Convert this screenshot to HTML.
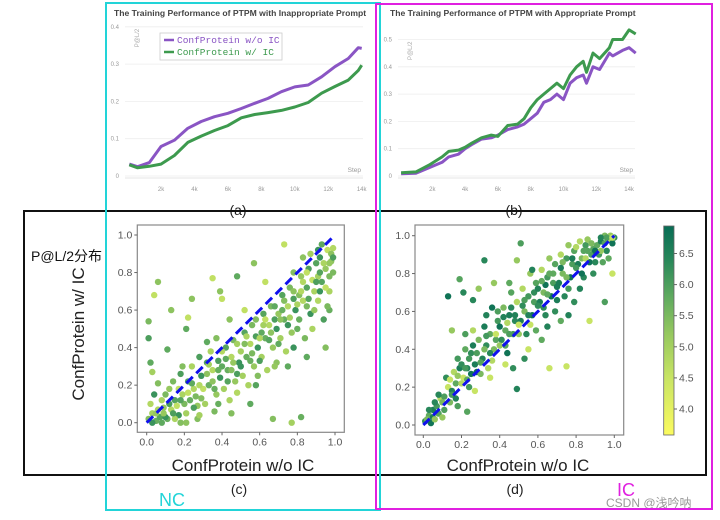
<!DOCTYPE html>
<html><head><meta charset="utf-8"><style>
html,body{margin:0;padding:0;background:#fff}
svg{display:block;font-family:"Liberation Sans","Noto Sans CJK SC",sans-serif}
</style></head><body>
<svg id="fig" width="720" height="520" viewBox="0 0 720 520" xmlns="http://www.w3.org/2000/svg">
<g id="ga"></g>
<g id="gb"></g>
<g id="gc"></g>
<g id="gd"></g>
<g id="gcb"></g>

<text x="238" y="215" font-size="14" text-anchor="middle" fill="#222">(a)</text>
<text x="514" y="215" font-size="14" text-anchor="middle" fill="#222">(b)</text>
<text x="239" y="494" font-size="14" text-anchor="middle" fill="#222">(c)</text>
<text x="515" y="494" font-size="14" text-anchor="middle" fill="#222">(d)</text>
<text x="159" y="506" font-size="18" fill="#22d4d8">NC</text>
<text x="617" y="496" font-size="18" fill="#e020e0">IC</text>
<text x="606" y="507" font-size="12" fill="#999">CSDN @浅吟呐</text>
<text x="31" y="261" font-size="14" fill="#111">P@L/2分布</text>
<text transform="translate(84,334) rotate(-90)" font-size="17" text-anchor="middle" fill="#222">ConfProtein w/ IC</text>
<text x="243" y="471" font-size="17" text-anchor="middle" fill="#222">ConfProtein w/o IC</text>
<text x="518" y="471" font-size="17" text-anchor="middle" fill="#222">ConfProtein w/o IC</text>

<rect x="24" y="211" width="682" height="264" fill="none" stroke="#111" stroke-width="2"/>
<rect x="106" y="3" width="274" height="507" fill="none" stroke="#22d4d8" stroke-width="2"/>
<rect x="376" y="4" width="336" height="505" fill="none" stroke="#e020e0" stroke-width="2"/>
</svg>
<script>
// ---- Chart (a) data ----
const aSteps = [0.1,0.6,1.3,2,2.8,3.6,4.4,5.2,6,6.8,7.6,8.4,9.2,10,10.8,11.6,12.4,13.2,13.8,14];
const aWithout = [0.032,0.025,0.036,0.079,0.096,0.128,0.146,0.159,0.168,0.181,0.195,0.208,0.226,0.239,0.244,0.266,0.293,0.315,0.344,0.342];
const aWith = [0.030,0.022,0.026,0.032,0.055,0.090,0.107,0.122,0.135,0.156,0.165,0.170,0.176,0.185,0.197,0.222,0.240,0.257,0.283,0.297];
const aYTicks = [0,0.1,0.2,0.3,0.4];
const xTickLabels = ["2k","4k","6k","8k","10k","12k","14k"];
const xTickVals = [2,4,6,8,10,12,14];
// ---- Chart (b) data ----
const bSteps = [0.1,1,1.8,2.6,3,3.6,4,4.4,5,5.6,6,6.6,7.2,7.6,8,8.4,8.8,9.2,9.6,10,10.4,10.8,11.2,11.4,11.8,12.2,12.8,13,13.6,14,14.4];
const bWith = [0.012,0.015,0.04,0.07,0.09,0.095,0.105,0.12,0.14,0.15,0.145,0.185,0.19,0.21,0.25,0.28,0.30,0.32,0.34,0.32,0.37,0.40,0.42,0.38,0.45,0.43,0.47,0.50,0.50,0.535,0.52];
const bWithout = [0.008,0.010,0.03,0.05,0.07,0.08,0.10,0.115,0.135,0.14,0.15,0.17,0.18,0.19,0.21,0.23,0.27,0.28,0.30,0.28,0.34,0.36,0.37,0.34,0.40,0.39,0.45,0.44,0.46,0.47,0.45];
const bYTicks = [0,0.1,0.2,0.3,0.4,0.5];
// ---- Scatter (c) data [x,y] ----
const cPoints = [[0.01,0.02],[0.03,0.05],[0.05,0.01],[0.02,0.10],[0.07,0.03],[0.09,0.08],[0.04,0.15],[0.08,0.12],[0.01,0.54],[0.01,0.45],[0.04,0.68],[0.06,0.75],[0.02,0.32],[0.06,0.21],[0.03,0.27],
[0.11,0.02],[0.13,0.07],[0.15,0.12],[0.12,0.18],[0.17,0.04],[0.19,0.15],[0.14,0.22],[0.18,0.26],[0.16,0.09],[0.13,0.60],[0.11,0.39],[0.19,0.30],
[0.21,0.05],[0.23,0.12],[0.25,0.18],[0.22,0.22],[0.27,0.09],[0.29,0.25],[0.24,0.30],[0.26,0.14],[0.28,0.35],[0.22,0.56],[0.24,0.66],[0.21,0.50],[0.27,0.02],
[0.31,0.10],[0.33,0.20],[0.35,0.28],[0.32,0.32],[0.37,0.15],[0.39,0.24],[0.34,0.38],[0.36,0.06],[0.38,0.33],[0.35,0.77],[0.39,0.70],[0.32,0.43],[0.37,0.45],
[0.41,0.18],[0.43,0.28],[0.45,0.35],[0.42,0.40],[0.47,0.22],[0.49,0.32],[0.44,0.12],[0.46,0.44],[0.48,0.26],[0.40,0.66],[0.44,0.55],[0.48,0.78],[0.45,0.05],
[0.51,0.25],[0.53,0.35],[0.55,0.42],[0.52,0.48],[0.57,0.30],[0.59,0.40],[0.54,0.20],[0.56,0.52],[0.58,0.46],[0.52,0.60],[0.57,0.85],[0.55,0.10],[0.59,0.25],
[0.61,0.35],[0.63,0.45],[0.65,0.52],[0.62,0.58],[0.67,0.40],[0.69,0.50],[0.64,0.28],[0.66,0.62],[0.68,0.55],[0.63,0.75],[0.69,0.32],[0.61,0.48],[0.67,0.02],
[0.71,0.45],[0.73,0.55],[0.75,0.62],[0.72,0.68],[0.77,0.48],[0.79,0.60],[0.74,0.38],[0.76,0.72],[0.78,0.66],[0.73,0.95],[0.71,0.55],[0.75,0.30],[0.78,0.80],[0.77,0.00],
[0.81,0.55],[0.83,0.65],[0.85,0.72],[0.82,0.78],[0.87,0.58],[0.89,0.70],[0.84,0.45],[0.86,0.82],[0.88,0.76],[0.83,0.88],[0.85,0.35],[0.81,0.68],[0.87,0.90],[0.82,0.03],
[0.91,0.65],[0.93,0.75],[0.95,0.82],[0.92,0.88],[0.97,0.70],[0.99,0.80],[0.94,0.55],[0.96,0.92],[0.98,0.86],[0.93,0.95],[0.95,0.40],[0.91,0.78],[0.97,0.60],[0.99,0.93],[0.90,0.85],
[0.05,0.05],[0.10,0.03],[0.15,0.02],[0.20,0.10],[0.25,0.08],[0.30,0.18],[0.35,0.22],[0.40,0.30],[0.45,0.28],[0.50,0.38],[0.55,0.33],[0.60,0.45],[0.65,0.44],[0.70,0.58],[0.75,0.52],[0.80,0.63],[0.85,0.62],[0.90,0.75],[0.95,0.72],[0.98,0.90],
[0.08,0.00],[0.18,0.00],[0.28,0.04],[0.38,0.10],[0.48,0.16],[0.58,0.20],[0.68,0.30],[0.78,0.40],[0.88,0.50],[0.96,0.62],[0.12,0.10],[0.22,0.16],[0.32,0.26],[0.42,0.34],[0.52,0.42],[0.62,0.52],[0.72,0.60],[0.82,0.70],[0.92,0.80],[0.97,0.85],
[0.03,0.00],[0.06,0.07],[0.10,0.15],[0.14,0.05],[0.17,0.18],[0.21,0.00],[0.24,0.21],[0.29,0.13],[0.33,0.31],[0.36,0.18],[0.40,0.38],[0.43,0.22],[0.46,0.32],[0.50,0.30],[0.53,0.46],[0.56,0.37],[0.60,0.33],[0.63,0.55],[0.66,0.48],[0.70,0.42],
[0.73,0.65],[0.76,0.56],[0.80,0.50],[0.83,0.75],[0.86,0.66],[0.89,0.60],[0.92,0.70],[0.94,0.85],[0.97,0.78],[0.99,0.88],[0.85,0.80],[0.78,0.70],[0.68,0.62],[0.58,0.55],[0.48,0.42],[0.38,0.28],[0.28,0.20],[0.18,0.12],[0.09,0.05],[0.91,0.92]];
const cColorVals = [5.4,5.0,5.7,4.8,5.9,5.2,6.2,4.9,5.5,6.0,4.6,5.3,5.8];
// ---- Scatter (d) data ----
const dPoints = [[0.01,0.02],[0.03,0.05],[0.05,0.08],[0.02,0.03],[0.07,0.10],[0.09,0.14],[0.04,0.01],[0.08,0.06],[0.06,0.12],[0.10,0.04],
[0.11,0.15],[0.13,0.20],[0.15,0.18],[0.12,0.25],[0.17,0.22],[0.19,0.30],[0.14,0.12],[0.18,0.35],[0.16,0.28],[0.13,0.68],[0.19,0.77],[0.21,0.70],[0.15,0.50],[0.18,0.10],
[0.21,0.25],[0.23,0.30],[0.25,0.38],[0.22,0.40],[0.27,0.32],[0.29,0.45],[0.24,0.20],[0.26,0.50],[0.28,0.28],[0.23,0.07],[0.26,0.66],[0.29,0.72],[0.22,0.48],[0.27,0.18],
[0.31,0.35],[0.33,0.42],[0.35,0.48],[0.32,0.52],[0.37,0.40],[0.39,0.55],[0.34,0.30],[0.36,0.62],[0.38,0.45],[0.32,0.87],[0.37,0.75],[0.39,0.60],[0.35,0.25],[0.33,0.58],
[0.41,0.45],[0.43,0.50],[0.45,0.58],[0.42,0.62],[0.47,0.48],[0.49,0.65],[0.44,0.38],[0.46,0.70],[0.48,0.55],[0.49,0.87],[0.51,0.96],[0.43,0.32],[0.49,0.19],[0.47,0.30],[0.45,0.75],
[0.51,0.55],[0.53,0.60],[0.55,0.68],[0.52,0.72],[0.57,0.58],[0.59,0.75],[0.54,0.48],[0.56,0.80],[0.58,0.65],[0.55,0.40],[0.57,0.82],[0.53,0.35],[0.59,0.50],
[0.61,0.65],[0.63,0.70],[0.65,0.78],[0.62,0.82],[0.67,0.68],[0.69,0.85],[0.64,0.58],[0.66,0.88],[0.68,0.75],[0.66,0.30],[0.65,0.52],[0.69,0.60],[0.62,0.45],
[0.71,0.75],[0.73,0.80],[0.75,0.88],[0.72,0.90],[0.77,0.78],[0.79,0.92],[0.74,0.68],[0.76,0.95],[0.78,0.85],[0.75,0.31],[0.76,0.58],[0.79,0.65],[0.72,0.55],
[0.81,0.85],[0.83,0.88],[0.85,0.95],[0.82,0.97],[0.87,0.86],[0.89,0.93],[0.84,0.78],[0.86,0.98],[0.88,0.90],[0.87,0.55],[0.82,0.72],[0.89,0.80],
[0.91,0.95],[0.93,0.97],[0.95,1.00],[0.92,0.90],[0.97,0.98],[0.99,0.96],[0.94,0.86],[0.96,0.92],[0.98,1.00],[0.95,0.65],[0.99,0.80],[0.93,0.99],[1.00,0.99],[0.97,0.88],
[0.05,0.04],[0.10,0.12],[0.15,0.16],[0.20,0.22],[0.25,0.27],[0.30,0.33],[0.35,0.38],[0.40,0.42],[0.45,0.48],[0.50,0.53],[0.55,0.58],[0.60,0.63],[0.65,0.69],[0.70,0.73],[0.75,0.78],[0.80,0.83],[0.85,0.88],[0.90,0.92],[0.95,0.96],
[0.08,0.16],[0.18,0.26],[0.28,0.38],[0.38,0.48],[0.48,0.58],[0.58,0.70],[0.68,0.80],[0.78,0.88],[0.88,0.96],[0.24,0.35],[0.44,0.54],[0.64,0.74],[0.84,0.92],
[0.03,0.08],[0.06,0.03],[0.11,0.08],[0.14,0.24],[0.17,0.14],[0.20,0.32],[0.23,0.24],[0.26,0.42],[0.30,0.27],[0.33,0.47],[0.36,0.34],[0.40,0.52],[0.43,0.42],[0.46,0.62],[0.50,0.48],[0.53,0.66],[0.56,0.53],[0.60,0.72],[0.63,0.62],[0.66,0.80],
[0.70,0.66],[0.73,0.86],[0.76,0.72],[0.80,0.94],[0.83,0.80],[0.86,0.92],[0.90,0.86],[0.93,0.92],[0.96,0.99],[0.99,0.99],[0.42,0.57],[0.52,0.63],[0.62,0.76],[0.72,0.83],[0.32,0.40],[0.22,0.30]];
const dColorVals = [6.3,5.8,6.6,5.5,6.1,4.8,6.8,5.9,6.4,5.2,6.0,4.5,6.5];
const unitTicks = [0,0.2,0.4,0.6,0.8,1.0];
const cbTicks = [4.0,4.5,5.0,5.5,6.0,6.5];

const NS = "http://www.w3.org/2000/svg";
function mk(tag, attrs, parent){const e=document.createElementNS(NS,tag);for(const k in attrs)e.setAttribute(k,attrs[k]);parent.appendChild(e);return e;}

function lineChart(g, o){
  const sx = v => o.x0 + v*o.kx;
  const sy = v => o.y0 - v*o.ky;
  o.yTicks.forEach(t=>{
    const gl = mk('line',{x1:o.left,x2:o.right,y1:sy(t),y2:sy(t),stroke:'#eee','stroke-width':0.8},g);
    
    
    const tl = mk('text',{x:o.left-6,y:sy(t)+2,'font-size':6,fill:'#999','text-anchor':'end'},g);
    tl.textContent = t===0?'0':t.toFixed(1);
    
    
  });
  const ax = mk('line',{x1:o.left,x2:o.right,y1:o.y0+2,y2:o.y0+2,stroke:'#ddd','stroke-width':0.8},g);
  
  
  xTickVals.forEach((v,i)=>{
    const tl = mk('text',{x:sx(v),y:o.y0+15,'font-size':6,fill:'#999','text-anchor':'middle'},g);
    tl.textContent = xTickLabels[i];
    
    
  });
  o.series.forEach(s=>{
    const pts = o.steps.map((st,i)=>sx(st).toFixed(1)+','+sy(s.vals[i]).toFixed(1)).join(' ');
    const pl = mk('polyline',{points:pts,fill:'none',stroke:s.color,'stroke-width':3,'stroke-linejoin':'round'},g);
    
    
  });
  const st = mk('text',{x:o.right-2,y:o.y0-4,'font-size':6.5,fill:'#999','text-anchor':'end'},g);
  st.textContent='Step';
  
  
  const yt = mk('text',{transform:`translate(${o.left+14},${o.y0-o.ky*o.yTicks[o.yTicks.length-1]+2}) rotate(-90)`,'font-size':6,fill:'#aaa','text-anchor':'end'},g);
  yt.textContent='P@L/2';
  
  
  const ti = mk('text',{x:o.titleX,y:16,'font-size':8.6,'font-weight':'bold',fill:'#444'},g);
  ti.textContent=o.title;
  
  
}
lineChart(document.getElementById('ga'),{x0:127.6,kx:16.72,y0:176,ky:373,left:125,right:363,yTicks:aYTicks,steps:aSteps,
  series:[{vals:aWithout,color:'#8a55c4',name:'line-without-ic'},{vals:aWith,color:'#3d9a4e',name:'line-with-ic'}],
  title:'The Training Performance of PTPM with Inappropriate Prompt',titleX:114});
lineChart(document.getElementById('gb'),{x0:399.5,kx:16.4,y0:176,ky:273,left:398,right:635,yTicks:bYTicks,steps:bSteps,
  series:[{vals:bWithout,color:'#8a55c4',name:'line-without-ic'},{vals:bWith,color:'#3d9a4e',name:'line-with-ic'}],
  title:'The Training Performance of PTPM with Appropriate Prompt',titleX:390});
// legend for (a)
(function(){
  const g=document.getElementById('ga');
  const lg=mk('g',{},g);
  
  
  mk('rect',{x:160,y:33,width:122,height:27,fill:'#fff','fill-opacity':0.85,stroke:'#ccc','stroke-width':0.8},lg);
  [['ConfProtein w/o IC','#8a55c4',43],['ConfProtein w/ IC','#3d9a4e',55]].forEach(e=>{
    const ent=mk('g',{},lg);
    
    
    mk('line',{x1:164,x2:174,y1:e[2]-3,y2:e[2]-3,stroke:e[1],'stroke-width':2.5},ent);
    const t=mk('text',{x:177,y:e[2],'font-size':9.5,fill:e[1],'font-family':'Liberation Mono, monospace'},ent);
    t.textContent=e[0];
  });
})();

function colorFor(v){
  const stops=[[3.6,[250,250,95]],[4.5,[200,228,100]],[5.2,[150,200,95]],[5.8,[95,170,95]],[6.4,[40,135,90]],[6.9,[10,110,85]]];
  if(v<=stops[0][0])return 'rgb('+stops[0][1]+')';
  for(let i=1;i<stops.length;i++){if(v<=stops[i][0]){const a=stops[i-1],b=stops[i],t=(v-a[0])/(b[0]-a[0]);
    return 'rgb('+a[1].map((c,j)=>Math.round(c+(b[1][j]-c)*t)).join(',')+')';}}
  return 'rgb('+stops[stops.length-1][1]+')';
}
function scatter(g,o){
  const sx=v=>o.x0+v*(o.x1-o.x0), sy=v=>o.y0-v*(o.y0-o.y1);
  const fr=mk('rect',{x:o.fl,y:o.ft,width:o.fr-o.fl,height:o.fb-o.ft,fill:'#fff',stroke:'#888','stroke-width':1.2},g);
  
  
  unitTicks.forEach(t=>{
    mk('line',{x1:sx(t),x2:sx(t),y1:o.fb,y2:o.fb+3,stroke:'#666'},g);
    const xl=mk('text',{x:sx(t),y:o.fb+13,'font-size':10.5,fill:'#555','text-anchor':'middle'},g);
    xl.textContent=t.toFixed(1);
    
    
    mk('line',{x1:o.fl-3,x2:o.fl,y1:sy(t),y2:sy(t),stroke:'#666'},g);
    const yl=mk('text',{x:o.fl-5,y:sy(t)+3.5,'font-size':10.5,fill:'#555','text-anchor':'end'},g);
    yl.textContent=t.toFixed(1);
    
    
  });
  o.pts.forEach((p,i)=>{
    const c=mk('circle',{cx:sx(p[0]).toFixed(1),cy:sy(p[1]).toFixed(1),r:3.2,fill:colorFor(o.cv[i%o.cv.length])},g);
    
    
  });
  const d=mk('line',{x1:sx(0),y1:sy(0),x2:sx(1),y2:sy(1),stroke:'#1010ee','stroke-width':3,'stroke-dasharray':'9,5'},g);
  
  
}
scatter(document.getElementById('gc'),{x0:146.7,x1:335,y0:422.7,y1:235,fl:137.3,fr:344.3,ft:225,fb:432.3,pts:cPoints,cv:cColorVals});
scatter(document.getElementById('gd'),{x0:423.3,x1:614.3,y0:425,y1:235.7,fl:415,fr:623.7,ft:225,fb:435,pts:dPoints,cv:dColorVals});
// colorbar
(function(){
  const g=document.getElementById('gcb');
  const defs=mk('defs',{},g);
  const lg=mk('linearGradient',{id:'cbg',x1:0,y1:1,x2:0,y2:0},defs);
  [3.6,4.5,5.2,5.8,6.4,6.9].forEach(v=>mk('stop',{offset:((v-3.58)/(6.94-3.58)).toFixed(3),'stop-color':colorFor(v)},lg));
  const r=mk('rect',{x:663.7,y:226,width:10.3,height:209,fill:'url(#cbg)',stroke:'#666','stroke-width':0.8},g);
  
  
  cbTicks.forEach(t=>{
    const y=409-(t-4.0)*62.2;
    mk('line',{x1:674,x2:677,y1:y,y2:y,stroke:'#666'},g);
    const tl=mk('text',{x:679,y:y+3.5,'font-size':10.5,fill:'#555'},g);
    tl.textContent=t.toFixed(1);
    
    
  });
})();
</script>
</body></html>
